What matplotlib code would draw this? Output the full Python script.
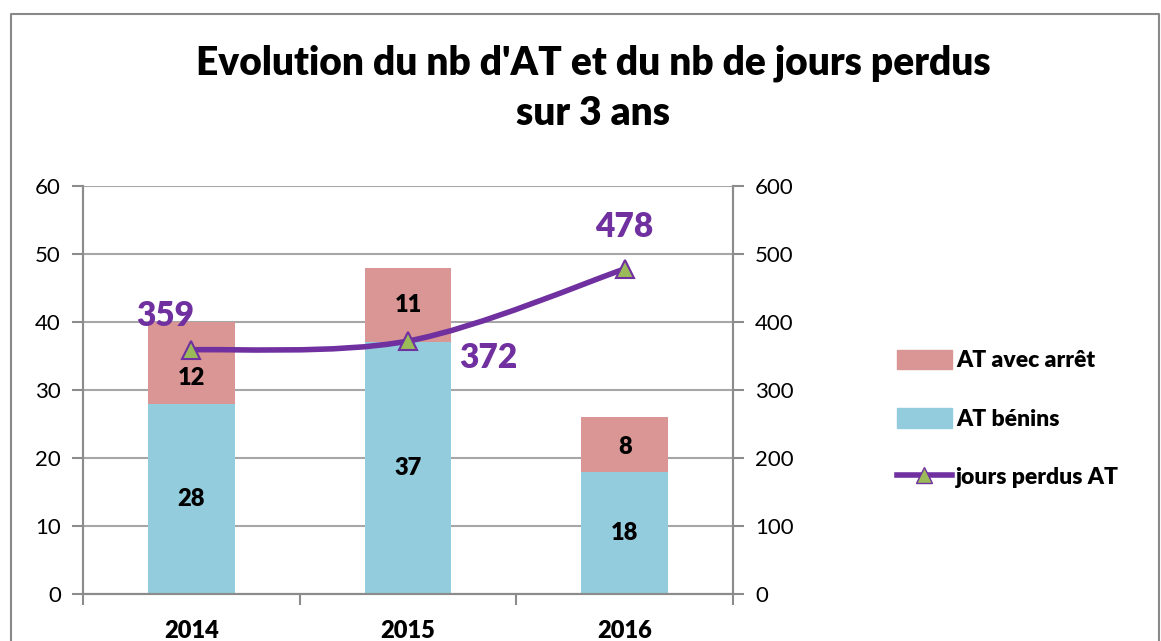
import matplotlib.pyplot as plt
from matplotlib.path import Path
from matplotlib.patches import PathPatch, Patch
from matplotlib.lines import Line2D
import numpy as np

plt.rcParams['font.family'] = ['Lato', 'DejaVu Sans']

years = ['2014', '2015', '2016']
at_benins = [28, 37, 18]
at_arret = [12, 11, 8]
jours_perdus = [359, 372, 478]

c_red = '#D99694'
c_blue = '#93CDDD'
c_purple = '#7030A0'
c_green = '#9BBB59'
c_grid = '#A6A6A6'
c_axis = '#8C8C8C'
bold = 'heavy'

fig = plt.figure(figsize=(11.61, 6.41), dpi=100)
ax = fig.add_axes([83 / 1161, 1 - 594 / 641, 650 / 1161, 408 / 641])
ax2 = ax.twinx()

x = np.arange(len(years))
ax.bar(x, at_benins, width=0.4, color=c_blue, zorder=2)
ax.bar(x, at_arret, width=0.4, bottom=at_benins, color=c_red, zorder=2)

# Excel pushed the 2014 label down to clear the line marker
arret_shift = [-2.2, 0, -0.4]
for xi, b, a, s in zip(x, at_benins, at_arret, arret_shift):
    ax.text(xi, b / 2, str(b), ha='center', va='center', fontsize=17, fontweight=bold)
    ax.text(xi, b + a / 2 + s, str(a), ha='center', va='center', fontsize=17, fontweight=bold)

ax.set_xlim(-0.5, len(years) - 0.5)
ax.set_ylim(0, 60)
ax.set_yticks(range(0, 61, 10))
ax.yaxis.grid(True, color=c_grid, linewidth=1.5, zorder=0)
ax.set_axisbelow(True)
ax.set_xticks(np.arange(-0.5, len(years), 1.0))
ax.set_xticklabels([])
ax.set_xticks(x, minor=True)
ax.set_xticklabels(years, minor=True, fontsize=17, fontweight=bold)
ax.tick_params(axis='x', which='minor', length=0, pad=19)
ax.tick_params(axis='x', which='major', length=8, width=1.5, color=c_axis)
ax.tick_params(axis='y', length=8, width=1.5, color=c_axis, labelsize=16, pad=8)

ax2.set_ylim(0, 600)
ax2.set_yticks(range(0, 601, 100))
ax2.tick_params(axis='y', length=8, width=1.5, color=c_axis, labelsize=16, pad=8)

for a_ in (ax, ax2):
    a_.spines['top'].set_visible(False)
    for s in ('left', 'right', 'bottom'):
        a_.spines[s].set_color(c_axis)
        a_.spines[s].set_linewidth(1.5)

# smoothed line (bezier through the data points)
pts = np.column_stack([x, jours_perdus]).astype(float)
verts = [tuple(pts[0])]
codes = [Path.MOVETO]
n = len(pts)
for i in range(n - 1):
    p0 = pts[max(i - 1, 0)]
    p1 = pts[i]
    p2 = pts[i + 1]
    p3 = pts[min(i + 2, n - 1)]
    verts += [tuple(p1 + (p2 - p0) / 6), tuple(p2 - (p3 - p1) / 6), tuple(p2)]
    codes += [Path.CURVE4] * 3
ax2.add_patch(PathPatch(Path(verts, codes), facecolor='none', edgecolor=c_purple,
                        linewidth=4, capstyle='round', zorder=3))
ax2.plot(x, jours_perdus, linestyle='none', marker='^', markersize=13,
         markerfacecolor=c_green, markeredgecolor=c_purple, markeredgewidth=1.5, zorder=4)

label_off = [(-0.12, 50), (0.37, -25), (0.0, 62)]
for xi, v, (dx, dy) in zip(x, jours_perdus, label_off):
    ax2.text(xi + dx, v + dy, str(v), ha='center', va='center', fontsize=24,
             fontweight=bold, color=c_purple)

fig.suptitle("Evolution du nb d'AT et du nb de jours perdus\nsur 3 ans",
             x=593 / 1161, y=1 - 44 / 641, fontsize=28, fontweight=bold,
             linespacing=1.45)

handles = [Patch(color=c_red, label='AT avec arrêt'),
           Patch(color=c_blue, label='AT bénins'),
           Line2D([], [], color=c_purple, linewidth=4, marker='^', markersize=12,
                  markerfacecolor=c_green, markeredgecolor=c_purple, label='jours perdus AT')]
fig.legend(handles=handles, loc='center left', bbox_to_anchor=(876 / 1161, 1 - 419 / 641),
           frameon=False, prop={'size': 16.5, 'weight': bold}, handlelength=2.4,
           handleheight=0.95, handletextpad=0.2, labelspacing=1.6)

# outer chart border
fig.add_artist(Line2D([11 / 1161, 11 / 1161, 1159 / 1161, 1159 / 1161],
                      [0, 1 - 14 / 641, 1 - 14 / 641, 0], color='#888888',
                      linewidth=1.5, transform=fig.transFigure))

fig.savefig('out.png', dpi=100)
